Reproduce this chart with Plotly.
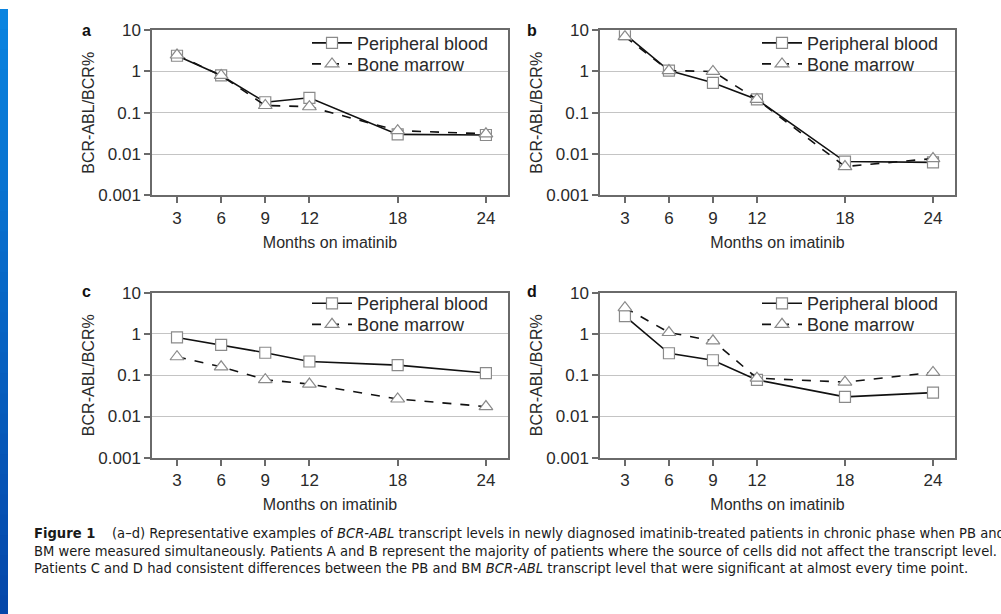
import plotly.graph_objects as go

W, H = 1001, 626
# the captured picture maps figure pixel y to 8.9 + 0.968*y; place items by target picture pixels
Y0, YS = 8.9, 0.968

months = [3, 6, 9, 12, 18, 24]
panel_letters = ["a", "b", "c", "d"]

pb_a = [2.4, 0.8, 0.18, 0.23, 0.030, 0.029]
bm_a = [2.5, 0.8, 0.15, 0.14, 0.037, 0.031]
pb_b = [8.0, 1.05, 0.53, 0.21, 0.0066, 0.0063]
bm_b = [7.0, 1.05, 1.0, 0.21, 0.0050, 0.0078]
pb_c = [0.82, 0.54, 0.35, 0.215, 0.176, 0.113]
bm_c = [0.28, 0.16, 0.078, 0.061, 0.0266, 0.0174]
pb_d = [2.7, 0.34, 0.23, 0.077, 0.030, 0.038]
bm_d = [4.3, 1.08, 0.68, 0.085, 0.068, 0.117]

pb_series = [pb_a, pb_b, pb_c, pb_d]
bm_series = [bm_a, bm_b, bm_c, bm_d]

ytick_vals = [0.001, 0.01, 0.1, 1, 10]
ytick_text = ["0.001", "0.01", "0.1", "1", "10"]
xtick_vals = [3, 6, 9, 12, 18, 24]

caption_lines = [
    "<b>Figure 1</b>    (a–d) Representative examples of <i>BCR-ABL</i> transcript levels in newly diagnosed imatinib-treated patients in chronic phase when PB and",
    "BM were measured simultaneously. Patients A and B represent the majority of patients where the source of cells did not affect the transcript level.",
    "Patients C and D had consistent differences between the PB and BM <i>BCR-ABL</i> transcript level that were significant at almost every time point.",
]

# panel pixel boxes (target picture pixels): (left, right, top, bottom)
boxes = [(152, 508, 30, 195), (600, 955, 30, 195), (152, 508, 292, 457), (600, 955, 292, 457)]
# legend anchor pixels: (left x, row1 y, row2 y)
legend_pos = [(307, 43, 64), (757, 43, 64), (307, 303, 324), (757, 303, 324)]


def px(x):
    return x / W


def py(y):
    return 1 - ((y - Y0) / YS) / H


fig = go.Figure()

AX_COLOR = "#6a6a6a"
TXT = "#2a2a2a"
FONT = "Liberation Sans, Arial, sans-serif"

for i in range(4):
    xa = "x" if i == 0 else f"x{i+1}"
    ya = "y" if i == 0 else f"y{i+1}"
    fig.add_trace(go.Scatter(
        x=months, y=pb_series[i], mode="lines+markers", name="Peripheral blood",
        xaxis=xa, yaxis=ya, legend=f"legend{2*i+1}" if i > 0 else "legend",
        line=dict(color="#111111", width=1.6),
        marker=dict(symbol="square", size=11, color="white", line=dict(color="#8a8a8a", width=1.2)),
    ))
    fig.add_trace(go.Scatter(
        x=months, y=bm_series[i], mode="lines+markers", name="Bone marrow",
        xaxis=xa, yaxis=ya, legend=f"legend{2*i+2}",
        line=dict(color="#111111", width=1.6, dash="dash"),
        marker=dict(symbol="triangle-up", size=12, color="white", line=dict(color="#8a8a8a", width=1.2)),
    ))

layout = dict(
    width=W, height=H,
    margin=dict(l=0, r=0, t=0, b=0),
    paper_bgcolor="white", plot_bgcolor="rgba(0,0,0,0)",
    showlegend=True,
    font=dict(family=FONT, color=TXT, size=16),
)

for i, (l, r, t, b) in enumerate(boxes):
    xk = "xaxis" if i == 0 else f"xaxis{i+1}"
    yk = "yaxis" if i == 0 else f"yaxis{i+1}"
    ya = "y" if i == 0 else f"y{i+1}"
    xa = "x" if i == 0 else f"x{i+1}"
    layout[xk] = dict(
        domain=[px(l), px(r)], anchor=ya, range=[1.3, 25.5],
        tickvals=xtick_vals, ticks="outside", ticklen=6, tickcolor=AX_COLOR, tickwidth=1.5,
        showline=True, linecolor=AX_COLOR, linewidth=1.5, mirror=True,
        showgrid=False, zeroline=False,
        tickfont=dict(size=17, color=TXT),
        title=dict(text="Months on imatinib", font=dict(size=16, color=TXT), standoff=10),
    )
    layout[yk] = dict(
        domain=[py(b), py(t)], anchor=xa, type="log", range=[-3, 1],
        tickvals=ytick_vals, ticktext=ytick_text, ticks="outside", ticklen=6,
        tickcolor=AX_COLOR, tickwidth=1.5,
        showline=True, linecolor=AX_COLOR, linewidth=1.5, mirror=True,
        showgrid=True, gridcolor="#c4c4c4", gridwidth=1.2, zeroline=False,
        tickfont=dict(size=17, color=TXT),
        title=dict(text="BCR-ABL/BCR%", font=dict(size=16, color=TXT), standoff=0),
    )
    lx, r1, r2 = legend_pos[i]
    for j, ry in enumerate((r1, r2)):
        n = 2 * i + j + 1
        lk = "legend" if n == 1 else f"legend{n}"
        layout[lk] = dict(
            x=px(lx), y=py(ry), xanchor="left", yanchor="middle",
            bgcolor="rgba(0,0,0,0)", borderwidth=0,
            font=dict(size=18, color=TXT), itemwidth=40,
        )

fig.update_layout(**layout)

# left blue frame stripe (darkening downwards)
shapes = []
n = 30
for k in range(n):
    t0 = k / n
    t1 = (k + 1) / n
    r_ = int(0x0a + (0x05 - 0x0a) * t0)
    g_ = int(0x84 + (0x45 - 0x84) * t0)
    b_ = int(0xe0 + (0xa8 - 0xe0) * t0)
    shapes.append(dict(type="rect", xref="paper", yref="paper", x0=0, x1=px(8),
                       y0=max(0, 1 - t1 - 0.004), y1=1 - t0, fillcolor=f"rgb({r_},{g_},{b_})",
                       line=dict(width=0), layer="below"))
fig.update_layout(shapes=shapes)

annotations = []
letter_pos = [(86, 30), (532, 30), (86, 291), (532, 291)]
for letter, (lx, ly) in zip(panel_letters, letter_pos):
    annotations.append(dict(text=f"<b>{letter}</b>", x=px(lx), y=py(ly), xref="paper", yref="paper",
                            showarrow=False, xanchor="center", yanchor="middle",
                            font=dict(size=16, color="#111111", family=FONT)))
cap_y = [532, 549, 566]
for line, cy in zip(caption_lines, cap_y):
    annotations.append(dict(text=line, x=px(32), y=py(cy), xref="paper", yref="paper",
                            showarrow=False, xanchor="left", yanchor="middle", align="left",
                            font=dict(size=14.6, color="#1a1a1a",
                                      family="DejaVu Sans Condensed, Noto Sans, sans-serif")))
fig.update_layout(annotations=annotations)

fig.write_html(
    "out.html",
    post_script="document.documentElement.style.backgroundColor='#078ee4';document.body.style.backgroundColor='#078ee4';",
)
